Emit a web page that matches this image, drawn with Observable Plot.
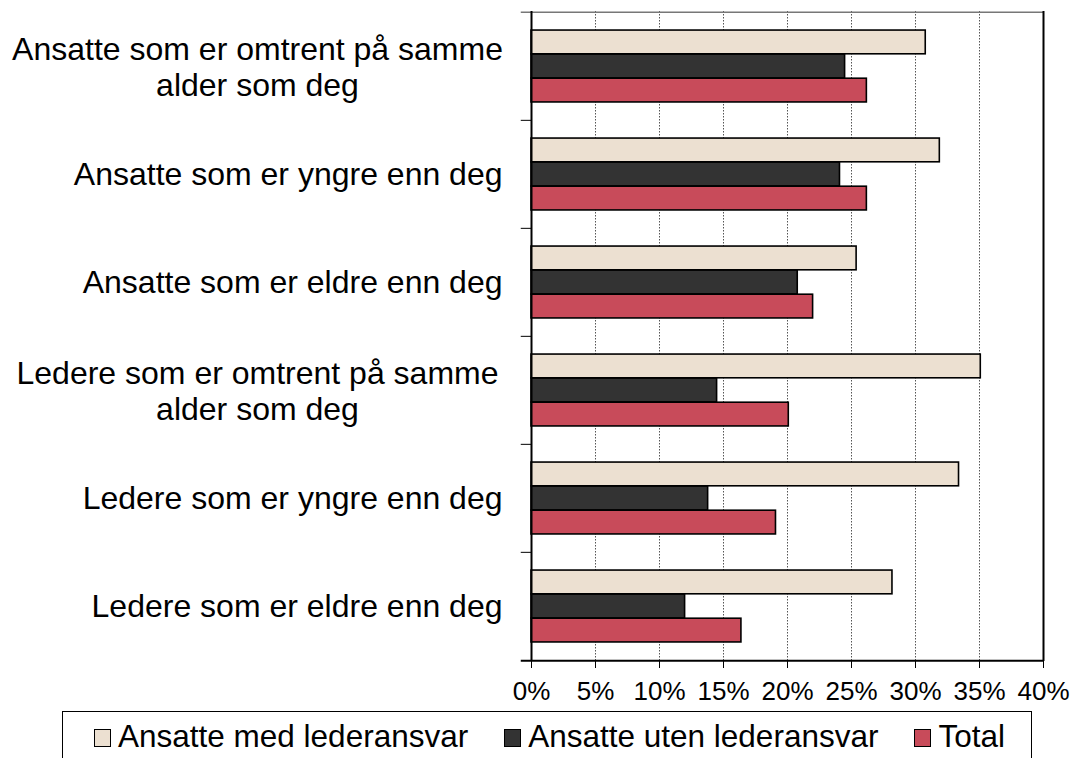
<!DOCTYPE html>
<html>
<head>
<meta charset="utf-8">
<script src="https://cdn.jsdelivr.net/npm/d3@7"></script>
<script src="https://cdn.jsdelivr.net/npm/@observablehq/plot@0.6"></script>
<style>
  body { margin: 0; background: #fff; font-family: "Liberation Sans", Arial, sans-serif; }
  #wrap { position: relative; width: 1071px; height: 758px; overflow: hidden; }
  #legend { position: absolute; left: 62px; top: 711px; width: 970px; height: 80px; border: 1.5px solid #000; box-sizing: border-box; }
  #legend .items { position: absolute; left: 31px; top: 9px; display: flex; gap: 36px; font-size: 31.5px; line-height: 30px; white-space: nowrap; }
  #legend .item { display: flex; align-items: center; }
  #legend .sw { width: 15px; height: 16px; border: 1.5px solid #000; margin-right: 7px; margin-top: 4px; }
</style>
</head>
<body>
<div id="wrap"><div id="chart"></div><div id="legend"><div class="items"></div></div></div>
<script>
const categories = [
  "Ansatte som er omtrent på samme\nalder som deg",
  "Ansatte som er yngre enn deg",
  "Ansatte som er eldre enn deg",
  "Ledere som er omtrent på samme\nalder som deg",
  "Ledere som er yngre enn deg",
  "Ledere som er eldre enn deg"
];
const series = ["Ansatte med lederansvar", "Ansatte uten lederansvar", "Total"];
const medLederansvar = [30.8, 31.9, 25.4, 35.1, 33.4, 28.2];
const utenLederansvar = [24.5, 24.1, 20.8, 14.5, 13.8, 12.0];
const total = [26.2, 26.2, 22.0, 20.1, 19.1, 16.4];
const xTicks = [0, 5, 10, 15, 20, 25, 30, 35, 40];
const colors = ["#ECE0D1", "#333333", "#C84B5A"];

const valuesBySeries = [medLederansvar, utenLederansvar, total];
const data = [];
series.forEach((s, i) => categories.forEach((c, j) => data.push({category: c, series: s, value: valuesBySeries[i][j]})));

const width = 1071, height = 712;
const mT = 11, mB = 51, mL = 531, mR = 28;
const step = (height - mT - mB) / categories.length;
const barH = step / 4.5;
const inset = (step - barH) / 2;

const barMarks = series.map((s, i) => Plot.barX(data.filter(d => d.series === s), {
  x: "value", y: "category", fill: colors[i], stroke: "#000", strokeWidth: 1.6,
  insetTop: inset, insetBottom: inset, dy: (i - 1) * barH
}));

const single = categories.filter(c => !c.includes("\n"));
const multi = categories.filter(c => c.includes("\n"));

const chart = Plot.plot({
  width, height,
  marginTop: mT, marginBottom: mB, marginLeft: mL, marginRight: mR,
  style: {fontFamily: '"Liberation Sans", Arial, sans-serif', background: "#fff"},
  x: {domain: [0, 40]},
  y: {domain: categories, padding: 0, axis: null},
  marks: [
    Plot.ruleX(xTicks.filter(t => t > 0 && t < 40), {stroke: "#555", strokeWidth: 1, strokeDasharray: "1.5,1.5"}),
    Plot.ruleY([categories[0]], {y: d => d, x1: -0.8, x2: 40, dy: -step / 2, stroke: "#777", strokeWidth: 1.5}),
    Plot.ruleY(categories.slice(1), {y: d => d, x1: -0.8, x2: 0, dy: -step / 2, stroke: "#000", strokeWidth: 1}),
    ...barMarks,
    Plot.ruleX([40], {stroke: "#000", strokeWidth: 2}),
    Plot.ruleX([0], {stroke: "#000", strokeWidth: 2}),
    Plot.ruleY([categories[categories.length - 1]], {y: d => d, x1: -0.8, x2: 40, dy: step / 2, stroke: "#000", strokeWidth: 2}),
    Plot.axisX({ticks: xTicks, tickSize: 7, tickPadding: 13, tickFormat: d => d + "%", fontSize: 26, stroke: "#000", fill: "#000", label: null}),
    Plot.text(single, {x: () => 0, y: d => d, text: d => d, dx: -29, textAnchor: "end", fontSize: 32, fill: "#000"}),
    Plot.text(multi, {x: () => 0, y: d => d, text: d => d, dx: -274, textAnchor: "middle", fontSize: 32, lineHeight: 1.13, fill: "#000"})
  ]
});
document.getElementById("chart").appendChild(chart);

const items = document.querySelector("#legend .items");
series.forEach((s, i) => {
  const it = document.createElement("div");
  it.className = "item";
  const sw = document.createElement("div");
  sw.className = "sw";
  sw.style.background = colors[i];
  const tx = document.createElement("span");
  tx.textContent = s;
  it.appendChild(sw); it.appendChild(tx);
  items.appendChild(it);
});
</script>
</body>
</html>
